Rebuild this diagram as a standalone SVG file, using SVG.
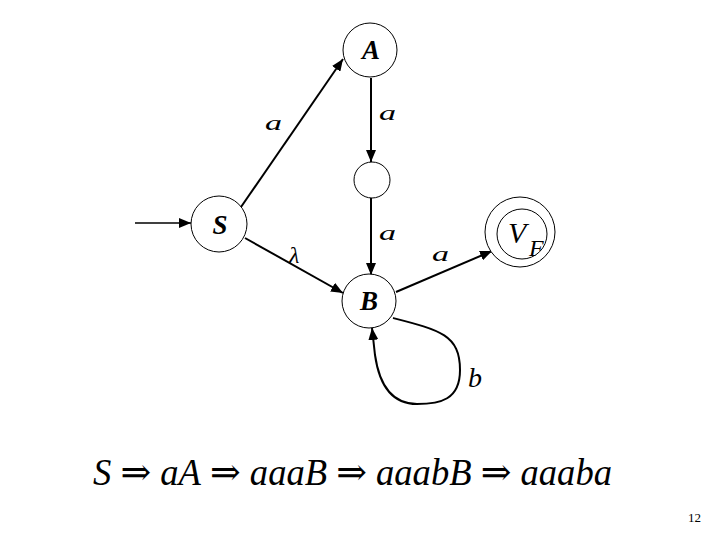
<svg xmlns="http://www.w3.org/2000/svg" width="720" height="540" viewBox="0 0 720 540">
<defs>
<marker id="ah" viewBox="0 0 12 10" refX="12" refY="5" markerWidth="12" markerHeight="10" markerUnits="userSpaceOnUse" orient="auto"><path d="M0,0 L12,5 L0,10 z" fill="#000"/></marker>
<style>
.n{fill:#fff;stroke:#000;stroke-width:1}
.e{fill:none;stroke:#000;stroke-width:2;marker-end:url(#ah)}
.l{font-family:"Liberation Serif","DejaVu Serif",serif;font-style:italic;font-size:20px;fill:#000}
.nl{font-family:"Liberation Serif","DejaVu Serif",serif;font-style:italic;font-weight:bold;font-size:27px;fill:#000;text-anchor:middle}
.t{font-family:"Liberation Serif","DejaVu Serif",serif;fill:#000}
.i{font-style:italic}
</style>
</defs>
<rect width="720" height="540" fill="#fff"/>
<g id="edges">
<line class="e" x1="135" y1="223" x2="191" y2="223" style="stroke-width:1.6"/>
<line class="e" x1="241" y1="207" x2="343" y2="59"/>
<line class="e" x1="371" y1="78" x2="371" y2="162"/>
<line class="e" x1="371" y1="198" x2="371" y2="275"/>
<line class="e" x1="245" y1="238" x2="343" y2="293"/>
<line class="e" x1="396" y1="292" x2="492" y2="251"/>
<path class="e" d="M393,318 C440,330 460,335 460,370 C460,400 440,404 417,404 C395,404 380,390 375,355 L372,328"/>
</g>
<g id="labels">
<text class="l" x="265" y="130" textLength="17" lengthAdjust="spacingAndGlyphs">a</text>
<text class="l" x="379" y="120" textLength="17" lengthAdjust="spacingAndGlyphs">a</text>
<text class="l" x="379" y="240" textLength="17" lengthAdjust="spacingAndGlyphs">a</text>
<text class="l" x="432" y="261" textLength="17" lengthAdjust="spacingAndGlyphs">a</text>
<text class="l" x="289" y="263" style="font-size:24px">λ</text>
<text class="l" x="468" y="387" style="font-size:28px">b</text>
</g>
<g id="A"><circle class="n" cx="370" cy="50" r="27"/><text class="nl" x="371" y="59">A</text></g>
<g id="S"><circle class="n" cx="219" cy="224" r="28"/><text class="nl" x="220" y="234">S</text></g>
<g id="M"><circle class="n" cx="372" cy="180" r="18"/></g>
<g id="B"><circle class="n" cx="369" cy="301" r="27"/><text class="nl" x="369" y="310">B</text></g>
<g id="VF"><circle class="n" cx="520" cy="232" r="35"/><circle class="n" cx="522" cy="234" r="25"/><text class="t i" x="508" y="243" style="font-size:30px">V</text><text class="t i" x="529" y="256" style="font-size:24px">F</text></g>
<g id="eq"><text class="t" x="93" y="485" textLength="519" lengthAdjust="spacingAndGlyphs" style="font-size:38px"><tspan class="i">S</tspan> ⇒ <tspan class="i">aA</tspan> ⇒ <tspan class="i">aaaB</tspan> ⇒ <tspan class="i">aaabB</tspan> ⇒ <tspan class="i">aaaba</tspan></text></g>
<text class="t" x="688" y="522" style="font-size:13px">12</text>
</svg>
